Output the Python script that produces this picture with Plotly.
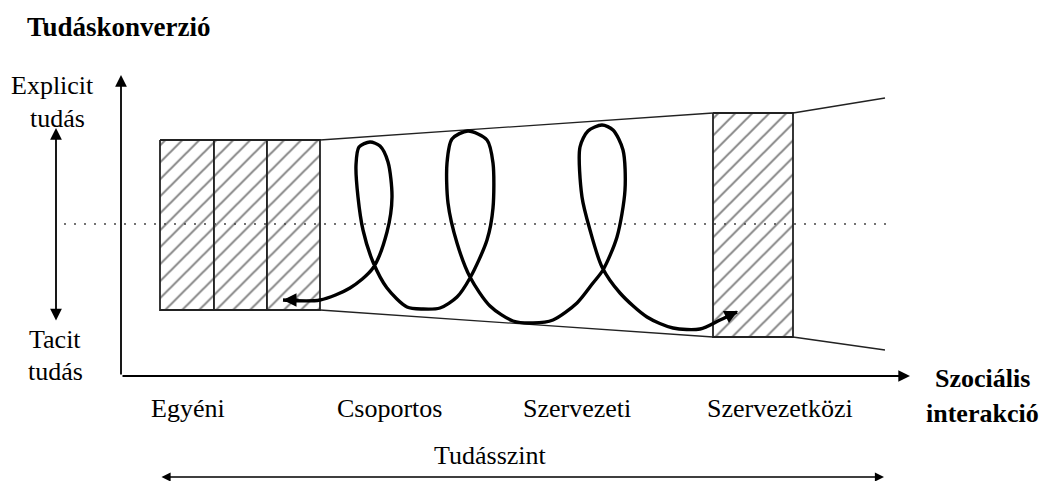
import plotly.graph_objects as go

# ---- diagram data ----
title_text = "Tudáskonverzió"
level_labels = ["Egyéni", "Csoportos", "Szervezeti", "Szervezetközi"]
level_label_x = [188, 389, 577, 780]
y_top_labels = ["Explicit", "tudás"]
y_bottom_labels = ["Tacit", "tudás"]
x_axis_labels = ["Szociális", "interakció"]
bottom_axis_label = "Tudásszint"

# hatched boxes: left group edges and the right box
left_box_edges = [160, 214, 267, 320]
left_box_top, left_box_bottom = 140, 310
right_box_x = [713, 793]
right_box_top, right_box_bottom = 113, 337

# funnel lines (start -> end)
funnel_top = [(320, 140, 713, 113), (793, 113, 885, 98)]
funnel_bottom = [(320, 310, 713, 337), (793, 337, 885, 350)]

# spiral waypoints
spiral_x = [283, 320, 350, 373, 387, 392, 388, 380, 370, 359, 356, 358, 363, 373, 387, 407, 423, 440,
            457, 470, 487, 493, 493, 487, 468, 452, 447, 448, 457, 470, 490, 513, 533, 553, 577, 593,
            603, 617, 625, 623, 613, 602, 588, 580, 582, 590, 602, 620, 647, 673, 700, 720, 737]
spiral_y = [300, 300, 288, 268, 232, 197, 162, 146, 142, 147, 165, 197, 230, 262, 288, 307, 309, 308,
            297, 278, 240, 208, 163, 140, 131, 139, 163, 203, 243, 277, 306, 321, 323, 320, 303, 283,
            270, 237, 190, 150, 130, 125, 131, 147, 197, 230, 267, 293, 317, 328, 329, 320, 312]

W, H = 1047, 481
FONT = "Liberation Serif, Times New Roman, serif"

fig = go.Figure()

def box(x0, x1, y0, y1):
    fig.add_trace(go.Scatter(
        x=[x0, x1, x1, x0, x0], y=[y0, y0, y1, y1, y0],
        mode="lines", fill="toself", fillcolor="white",
        fillpattern=dict(shape="/", size=12, solidity=0.16, fgcolor="black", bgcolor="white"),
        line=dict(color="#222", width=1.8), hoverinfo="skip", showlegend=False))

for i in range(len(left_box_edges) - 1):
    box(left_box_edges[i], left_box_edges[i + 1], left_box_top, left_box_bottom)
box(right_box_x[0], right_box_x[1], right_box_top, right_box_bottom)

for seg in funnel_top + funnel_bottom:
    fig.add_trace(go.Scatter(x=[seg[0], seg[2]], y=[seg[1], seg[3]], mode="lines",
                             line=dict(color="#222", width=1.3), hoverinfo="skip", showlegend=False))

# dotted mid line
fig.add_trace(go.Scatter(x=[64, 890], y=[224, 224], mode="lines",
                         line=dict(color="#444", width=1.6, dash="2px,8px"),
                         hoverinfo="skip", showlegend=False))

# spiral
fig.add_trace(go.Scatter(x=spiral_x, y=spiral_y, mode="lines",
                         line=dict(color="black", width=3.4, shape="spline", smoothing=0.8),
                         hoverinfo="skip", showlegend=False))

def arrow(x, y, ax, ay, width=1.8, side="end", size=1.3, head=2):
    fig.add_annotation(x=x, y=y, ax=ax, ay=ay, xref="x", yref="y", axref="x", ayref="y",
                       text="", showarrow=True, arrowhead=head, arrowsize=size, arrowwidth=width,
                       arrowcolor="black", arrowside=side, standoff=0, startstandoff=0,
                       startarrowhead=head, startarrowsize=size)

# axes
arrow(121, 75, 121, 376)
arrow(910, 376, 121, 376)
# left double arrow
arrow(56, 128, 56, 322, side="end+start")
# bottom double arrow
arrow(884, 477, 160, 477, side="end+start", width=1.4)
# spiral arrowheads
arrow(283, 300, 300, 300, width=3, size=0.9)
arrow(738, 311, 724, 318, width=3, size=0.9)

def text(x, y, s, size=26, bold=False, anchor="center"):
    fig.add_annotation(x=x, y=y, xref="x", yref="y", text=("<b>%s</b>" % s) if bold else s,
                       showarrow=False, xanchor=anchor, yanchor="middle",
                       font=dict(family=FONT, size=size, color="black"))

text(25, 27, title_text, size=27, bold=True, anchor="left")
text(52, 85, y_top_labels[0])
text(57, 118, y_top_labels[1])
text(55, 339, y_bottom_labels[0])
text(55, 371, y_bottom_labels[1])
for lx, lab in zip(level_label_x, level_labels):
    text(lx, 408, lab)
text(490, 455, bottom_axis_label)
text(982, 378, x_axis_labels[0], size=26, bold=True)
text(982, 413, x_axis_labels[1], size=26, bold=True)

fig.update_layout(width=W, height=H, margin=dict(l=0, r=0, t=0, b=0),
                  paper_bgcolor="white", plot_bgcolor="white", showlegend=False,
                  xaxis=dict(range=[0, W], visible=False, fixedrange=True),
                  yaxis=dict(range=[H, 0], visible=False, fixedrange=True))

fig.write_html("out.html", config={"displayModeBar": False},
               post_script="document.body.style.margin='0';document.body.style.overflow='hidden';")
